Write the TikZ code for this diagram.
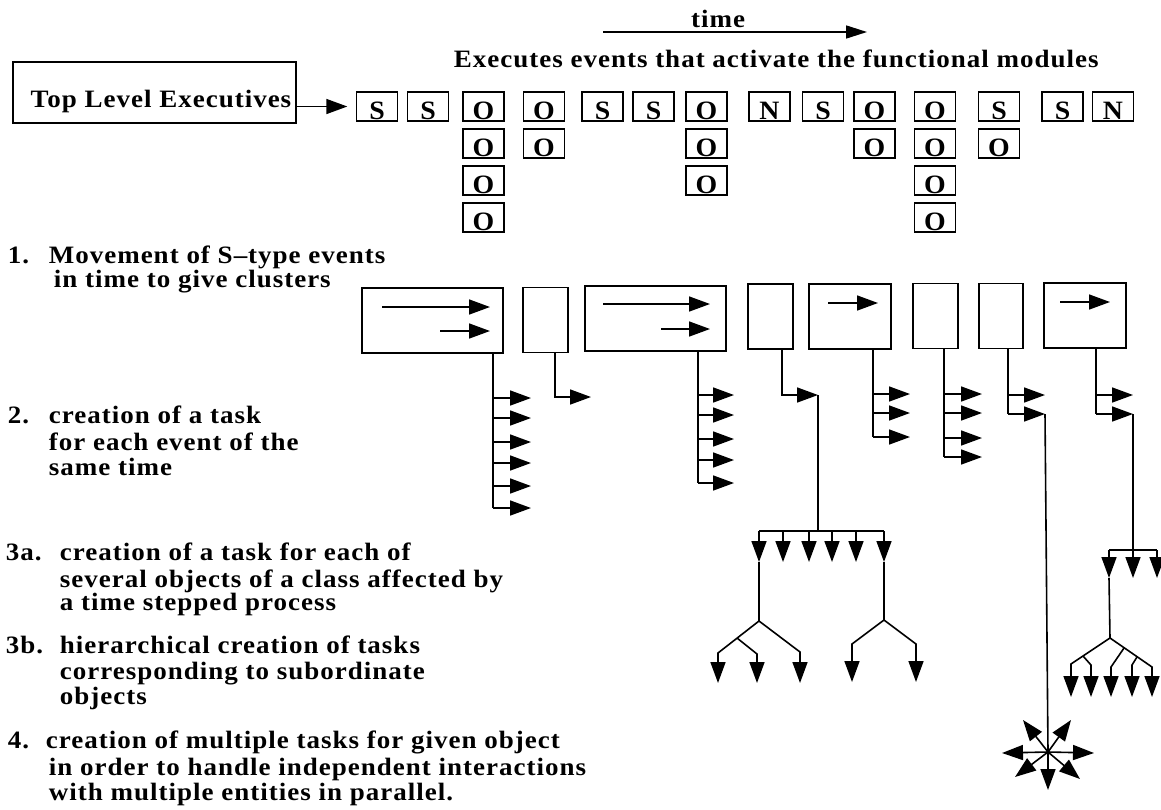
\documentclass[tikz,border=0pt]{standalone}
\usepackage{fontspec}
\setmainfont{Liberation Serif}[LetterSpace=4,FakeStretch=1.08]
\newfontfamily\boxfont{Liberation Serif}[FakeStretch=1.05]
\usetikzlibrary{arrows.meta}
\begin{document}
\begin{tikzpicture}[x=1pt,y=-1pt,line width=1.6pt,
  tip/.style={-{Triangle[length=21pt,width=15pt]}},
  lab/.style={font=\fontsize{25}{28}\selectfont\bfseries,inner sep=0pt,anchor=base west},
  ev/.style={draw,line width=1.4pt,minimum width=41pt,minimum height=29pt,inner sep=0pt,
    text height=25pt,text depth=0pt,font=\fontsize{26.5}{28}\boxfont\bfseries},
  cl/.style={draw,line width=1.6pt,inner sep=0pt,minimum height=65pt}]
\useasboundingbox (0,0) rectangle (1161,809);

% time arrow and headings
\node[lab,anchor=base] (time) at (718,27) {time};
\coordinate (t0) at (603,32);
\coordinate (t1) at (867,32);
\draw[-{Triangle[length=21pt,width=13pt]}] (t0) -- (t1);
\node[lab] (exec) at (453,67) {Executes events that activate the functional modules};

% top level executives
\node[draw,line width=1.6pt,minimum width=283pt,minimum height=61pt,inner sep=0pt] (tle) at (154.5,92.5) {};
\node[lab,anchor=base] (tletext) at (161,107) {Top Level Executives};

% event boxes
\foreach \n/\x/\y/\t in {
  1a/377/106.5/S, 2a/428/106.5/S,
  3a/483.5/106.5/O, 3b/483.5/143.5/O, 3c/483.5/180.5/O, 3d/483.5/217.5/O,
  4a/544/106.5/O, 4b/544/143.5/O,
  5a/602.5/106.5/S, 6a/653.5/106.5/S,
  7a/706.5/106.5/O, 7b/706.5/143.5/O, 7c/706.5/180.5/O,
  8a/769.5/106.5/N, 9a/823/106.5/S,
  10a/874.5/106.5/O, 10b/874.5/143.5/O,
  11a/935/106.5/O, 11b/935/143.5/O, 11c/935/180.5/O, 11d/935/217.5/O,
  12a/999/106.5/S, 12b/999/143.5/O,
  13a/1062.5/106.5/S, 14a/1113/106.5/N}
  \node[ev] (e\n) at (\x,\y) {\t};

\draw[tip,shorten >=8.5pt] (tle.east |- e1a.center) -- (e1a.west);

% left text
\node[lab] (n1) at (7,263) {1.};
\node[lab] (n1a) at (48,263) {Movement of S–type events};
\node[lab] (n1b) at (53,287) {in time to give clusters};
\node[lab] (n2) at (7,423) {2.};
\node[lab] (n2a) at (48,423) {creation of a task};
\node[lab] (n2b) at (48,450) {for each event of the};
\node[lab] (n2c) at (48,475) {same time};
\node[lab] (n3) at (5,560) {3a.};
\node[lab] (n3a) at (59,560) {creation of a task for each of};
\node[lab] (n3b) at (59,587) {several objects of a class affected by};
\node[lab] (n3c) at (59,610) {a time stepped process};
\node[lab] (n4) at (5,653) {3b.};
\node[lab] (n4a) at (59,653) {hierarchical creation of tasks};
\node[lab] (n4b) at (59,679) {corresponding to subordinate};
\node[lab] (n4c) at (59,704) {objects};
\node[lab] (n5) at (7,748) {4.};
\node[lab] (n5a) at (45,748) {creation of multiple tasks for given object};
\node[lab] (n5b) at (48,775) {in order to handle independent interactions};
\node[lab] (n5c) at (48,800) {with multiple entities in parallel.};

% cluster boxes
\node[cl,minimum width=141pt] (A) at (432.5,320.5) {};
\node[cl,minimum width=45pt] (B) at (545.5,320) {};
\node[cl,minimum width=141pt] (C) at (655.5,318.5) {};
\node[cl,minimum width=45pt] (D) at (770.5,316.5) {};
\node[cl,minimum width=82pt] (E) at (850,316.5) {};
\node[cl,minimum width=45pt] (F) at (935.5,316) {};
\node[cl,minimum width=44pt] (G) at (1001,316) {};
\node[cl,minimum width=82pt] (H) at (1085,315.5) {};

% arrows inside clusters
\draw[tip] (382,307) -- (490,307);
\draw[tip] (440,331) -- (490,331);
\draw[tip] (603,304) -- (710,304);
\draw[tip] (661,329) -- (710,329);
\draw[tip] (828,303) -- (878,303);
\draw[tip] (1060,302) -- (1110,302);

% stems and task arrows
\draw (A.south -| 493,0) -- (493,508);
\foreach \y in {398,418,442,463,486,508} \draw[tip] (493,\y) -- (531,\y);
\draw[tip] (B.south -| 555,0) -- (555,397) -- (591,397);
\draw (C.south -| 698,0) -- (698,483);
\foreach \y in {395,415,439,460,483} \draw[tip] (698,\y) -- (734,\y);
\coordinate (dtip) at (818,395);
\draw[tip] (D.south -| 782,0) -- (782,395) -- (dtip);
\draw (E.south -| 873,0) -- (873,437);
\foreach \y in {394,413,437} \draw[tip] (873,\y) -- (910,\y);
\draw (F.south -| 944,0) -- (944,457);
\foreach \y in {394,413,438,457} \draw[tip] (944,\y) -- (982,\y);
\draw (G.south -| 1008,0) -- (1008,414);
\coordinate (gtip) at (1045,414);
\draw[tip] (1008,395) -- (1045,395);
\draw[tip] (1008,414) -- (gtip);
\draw (H.south -| 1096,0) -- (1096,414);
\coordinate (htip) at (1133,414);
\draw[tip] (1096,395) -- (1133,395);
\draw[tip] (1096,414) -- (htip);

% 3a tree under D
\coordinate (dbar) at (818,531);
\draw (dtip) -- (dbar);
\draw (759,531) -- (884,531);
\foreach \x in {759,783,809,832,856,884} \draw[tip] (\x,531) -- (\x,562);
\coordinate (T1) at (759,621);
\coordinate (T2) at (884,620);
\draw (759,562) -- (T1);
\draw (884,562) -- (T2);
% 3b trees
\draw[tip] (T1) -- (718,653) -- (718,683);
\draw[tip] (737,638) -- (757,654) -- (757,683);
\draw[tip] (T1) -- (800,652) -- (800,683);
\draw[tip] (T2) -- (852,644) -- (852,682);
\draw[tip] (T2) -- (916,644) -- (916,682);

% tree under H
\coordinate (hbar) at (1133,550);
\draw (htip) -- (hbar);
\draw (1109,550) -- (1157,550);
\foreach \x in {1109,1133,1157} \draw[tip] (\x,550) -- (\x,578);
\coordinate (N) at (1110,638);
\draw (1109,578) -- (N);
\coordinate (P1) at (1083,656);
\coordinate (Q1) at (1124,648);
\coordinate (Q2) at (1137,657);
\draw[tip] (N) -- (1071,664) -- (1071,697);
\draw[tip] (P1) -- (1091,665) -- (1091,697);
\draw[tip] (N) -- (1152,667) -- (1152,697);
\draw[tip] (Q1) -- (1111,667) -- (1111,697);
\draw[tip] (Q2) -- (1132,665) -- (1132,697);

% star (4)
\coordinate (S) at (1048,752);
\draw (gtip) -- (S);
\foreach \p in {(1002,753),(1094,753),(1048,790),(1023,720),(1071,720),(1015,777),(1080,779)}
  \draw[tip] (S) -- \p;
\end{tikzpicture}
\end{document}
